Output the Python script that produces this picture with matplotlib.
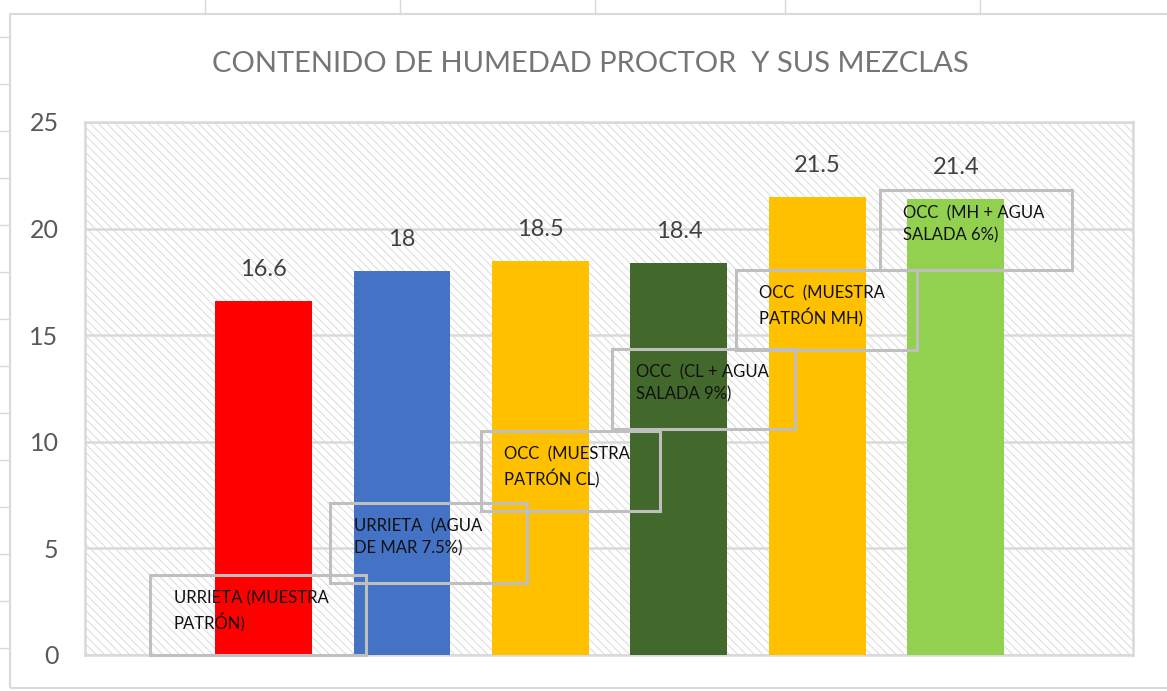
import matplotlib.pyplot as plt
from matplotlib.patches import Rectangle
from matplotlib.lines import Line2D

plt.rcParams['font.family'] = ['Lato', 'DejaVu Sans']
plt.rcParams['hatch.linewidth'] = 0.7

# data
categories = ["URRIETA (MUESTRA\nPATRÓN)",
              "URRIETA  (AGUA\nDE MAR 7.5%)",
              "OCC  (MUESTRA\nPATRÓN CL)",
              "OCC  (CL + AGUA\nSALADA 9%)",
              "OCC  (MUESTRA\nPATRÓN MH)",
              "OCC  (MH + AGUA\nSALADA 6%)"]
humedad = [16.6, 18, 18.5, 18.4, 21.5, 21.4]
colores = ["#FF0000", "#4472C4", "#FFC000", "#43682B", "#FFC000", "#92D050"]

# label box layout (x offset from bar centre, bottom in y units, width)
box_dx = [-0.82, -0.52, -0.43, -0.48, -0.59, -0.55]
box_y0 = [0.0, 3.38, 6.75, 10.6, 14.3, 18.06]
box_w = [1.56, 1.42, 1.29, 1.32, 1.31, 1.39]
box_h = 3.75

fig = plt.figure(figsize=(11.67, 6.91), dpi=100)
ax = fig.add_axes([0.0728, 0.0521, 0.8981, 0.7714])

# outer chart frame and sheet grid marks
fig.add_artist(Rectangle((10 / 1167, 3 / 691), 1.0, 674 / 691, transform=fig.transFigure,
                         fill=False, edgecolor="#d9d9d9", lw=1.5))
for xp in [205, 400, 595, 785, 980]:
    fig.add_artist(Line2D([xp / 1167, xp / 1167], [677 / 691, 1.0], transform=fig.transFigure,
                          color="#d9d9d9", lw=1))
for yp in range(37, 660, 47):
    fig.add_artist(Line2D([0, 10 / 1167], [1 - yp / 691, 1 - yp / 691], transform=fig.transFigure,
                          color="#d9d9d9", lw=1))

# hatched plot background
ax.set_facecolor("white")
ax.add_patch(Rectangle((0, 0), 1, 1, transform=ax.transAxes, facecolor="white",
                       edgecolor="#dadada", hatch="\\\\\\\\", lw=0, zorder=0))

x = range(len(categories))
bars = ax.bar(x, humedad, width=0.7, color=colores, zorder=3)

for xi, v in zip(x, humedad):
    ax.annotate(f"{v:g}", (xi, v), xytext=(0, 15), textcoords="offset points",
                ha="center", va="bottom", fontsize=17, color="#404040", zorder=5)

for xi, lab, dx, y0, w in zip(x, categories, box_dx, box_y0, box_w):
    ax.add_patch(Rectangle((xi + dx, y0), w, box_h, fill=False, edgecolor="#bfbfbf",
                           lw=2.2, zorder=4, clip_on=False))
    ax.text(xi + dx + 0.17, y0 + box_h - 0.7, lab, ha="left", va="top",
            fontsize=12, color="#111111", linespacing=1.45, zorder=5)

ax.set_xlim(-1.29, 6.28)
ax.set_ylim(0, 25)
ax.set_yticks([0, 5, 10, 15, 20, 25])
ax.set_xticks([])
ax.tick_params(axis="y", length=0, labelsize=18, labelcolor="#595959", pad=19)
ax.grid(axis="y", color="#d9d9d9", lw=1.8, zorder=1)
ax.set_axisbelow(True)
for s in ax.spines.values():
    s.set_color("#d9d9d9")
    s.set_linewidth(1.8)

fig.text(0.506, 0.907, "CONTENIDO DE HUMEDAD PROCTOR  Y SUS MEZCLAS", ha="center", va="center",
         fontsize=21, color="#757575")

fig.savefig("out.png", dpi=100)
